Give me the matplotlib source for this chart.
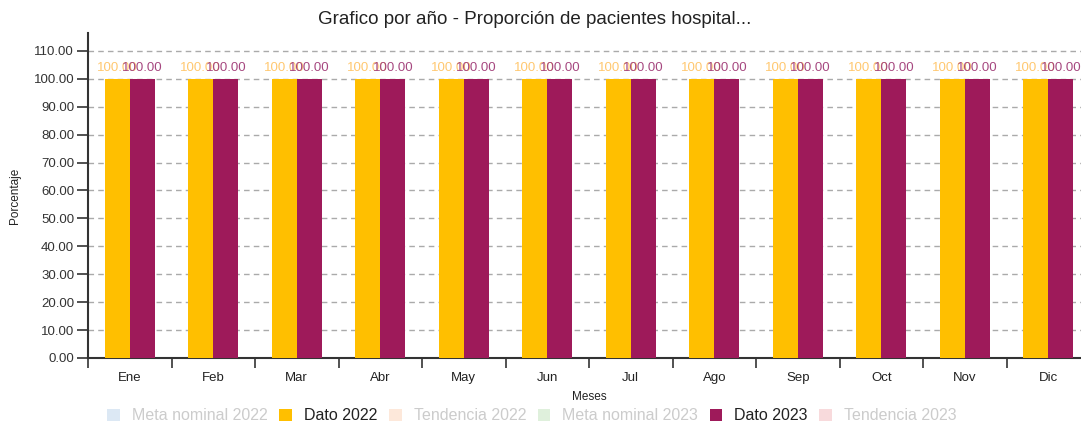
import matplotlib
matplotlib.use("Agg")
import matplotlib.pyplot as plt
from matplotlib.patches import Patch
import numpy as np

plt.rcParams['font.family'] = ['Liberation Sans', 'DejaVu Sans']

months = ["Ene", "Feb", "Mar", "Abr", "May", "Jun", "Jul", "Ago", "Sep", "Oct", "Nov", "Dic"]
dato_2022 = [100, 100, 100, 100, 100, 100, 100, 100, 100, 100, 100, 100]
dato_2023 = [100, 100, 100, 100, 100, 100, 100, 100, 100, 100, 100, 100]
y_ticks = [0, 10, 20, 30, 40, 50, 60, 70, 80, 90, 100, 110]
legend_labels = ["Meta nominal 2022", "Dato 2022", "Tendencia 2022",
                 "Meta nominal 2023", "Dato 2023", "Tendencia 2023"]
title = "Grafico por año - Proporción de pacientes hospital..."

c22 = "#FFBF00"
c23 = "#9E1A5A"

W, H = 1081, 426
fig = plt.figure(figsize=(W / 100, H / 100), dpi=100)
ax = fig.add_axes([88 / W, 68 / H, 1002 / W, 325 / H])

x = np.arange(len(months))
bw = 0.3
ax.bar(x - bw / 2, dato_2022, width=bw, color=c22, zorder=3)
ax.bar(x + bw / 2, dato_2023, width=bw, color=c23, zorder=3)

for xi, v in zip(x, dato_2022):
    ax.text(xi - bw / 2, v + 1.6, f"{v:.2f}", ha="center", va="bottom",
            fontsize=9.5, color="#FFC870", zorder=4)
for xi, v in zip(x, dato_2023):
    ax.text(xi + bw / 2, v + 1.6, f"{v:.2f}", ha="center", va="bottom",
            fontsize=9.5, color="#A64880", zorder=4)

ax.set_xlim(-0.5, len(months) - 0.5)
ax.set_ylim(0, 116.4)
ax.set_yticks(y_ticks)
ax.set_yticklabels([f"{t:.2f}" for t in y_ticks], fontsize=9.5, color="#333333")
ax.set_xticks(np.arange(-0.5, len(months) - 0.5, 1.0))
ax.set_xticklabels([])
ax.set_xticks(x, minor=True)
ax.set_xticklabels(months, minor=True, fontsize=9.5, color="#222222")
ax.tick_params(axis="x", which="major", length=7, width=1.2, color="#333333")
ax.tick_params(axis="x", which="minor", length=0, pad=10)
ax.tick_params(axis="y", length=8, width=1.2, color="#333333", pad=2)

ax.grid(axis="y", linestyle=(0, (4, 3)), color="#AAAAAA", linewidth=1, zorder=0)
ax.set_axisbelow(True)
for s in ["top", "right"]:
    ax.spines[s].set_visible(False)
for s in ["left", "bottom"]:
    ax.spines[s].set_color("#333333")
    ax.spines[s].set_linewidth(1.5)

ax.set_xlabel("Meses", fontsize=8.5, color="#222222", labelpad=5)
ax.set_ylabel("Porcentaje", fontsize=8.5, color="#222222", labelpad=9)

fig.text(535 / W, 1 - 20 / H, title, ha="center", va="center", fontsize=13.5, color="#222222")

handle_colors = ["#DCE8F4", c22, "#FDE8DA", "#DFF0DC", c23, "#F8DADC"]
text_colors = ["#CCCCCC", "#222222", "#CCCCCC", "#CCCCCC", "#222222", "#CCCCCC"]
handles = [Patch(facecolor=c, edgecolor="none") for c in handle_colors]
leg = fig.legend(handles, legend_labels, loc="center", bbox_to_anchor=(532 / W, 1 - 416 / H),
                 ncol=6, frameon=False, fontsize=11.5, handlelength=0.8, handleheight=0.8,
                 handletextpad=0.75, columnspacing=0.72, borderpad=0)
for t, c in zip(leg.get_texts(), text_colors):
    t.set_color(c)

fig.savefig("out.png", dpi=100)
